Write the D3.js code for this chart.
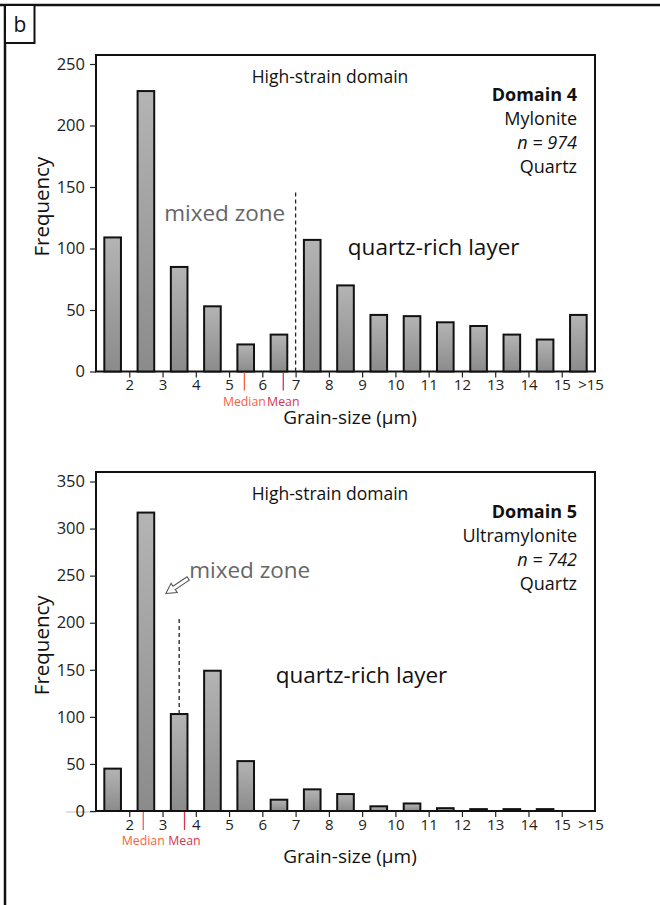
<!DOCTYPE html>
<html>
<head>
<meta charset="utf-8">
<script src="https://cdn.jsdelivr.net/npm/d3@7"></script>
<style>
  html, body { margin: 0; padding: 0; background: #fff; }
  svg { display: block; font-family: "Open Sans", "Noto Sans", sans-serif; }
</style>
</head>
<body>
<svg id="fig" width="660" height="905"></svg>
<script>
// Grain-size bins (µm): 1–2, 2–3, ... 14–15, >15
const binStarts = [1, 2, 3, 4, 5, 6, 7, 8, 9, 10, 11, 12, 13, 14, 15];
const tickValues = [2, 3, 4, 5, 6, 7, 8, 9, 10, 11, 12, 13, 14, 15];
const tickLabels = ["2", "3", "4", "5", "6", "7", "8", "9", "10", "11", "12", "13", "14", "15"];
const overflowLabel = ">15";

// Frequency per bin
const domain4Counts = [109, 228, 85, 53, 22, 30, 107, 70, 46, 45, 40, 37, 30, 26, 46];
const domain5Counts = [45, 317, 103, 149, 53, 12, 23, 18, 5, 8, 3, 2, 2, 2, 0];

// Frequency axis ticks
const domain4YTicks = [0, 50, 100, 150, 200, 250];
const domain5YTicks = [0, 50, 100, 150, 200, 250, 300, 350];

// Summary statistics (µm)
const domain4Stats = { median: 5.46, mean: 6.63 };
const domain5Stats = { median: 2.42, mean: 3.66 };

// Sample annotations
const domain4Info = ["Domain 4", "Mylonite", "n = 974", "Quartz"];
const domain5Info = ["Domain 5", "Ultramylonite", "n = 742", "Quartz"];

const svg = d3.select("#fig");

// shaded bar fill
const defs = svg.append("defs");
const grad = defs.append("linearGradient")
  .attr("id", "barFill").attr("x1", 0).attr("y1", 0).attr("x2", 0).attr("y2", 1);
grad.append("stop").attr("offset", "0%").attr("stop-color", "#b4b4b4");
grad.append("stop").attr("offset", "100%").attr("stop-color", "#8b8b8b");

// panel border and "b" label
svg.append("line").attr("x1", 0).attr("x2", 660).attr("y1", 5).attr("y2", 5)
  .attr("stroke", "#111").attr("stroke-width", 2.5);
svg.append("line").attr("x1", 5).attr("x2", 5).attr("y1", 5).attr("y2", 905)
  .attr("stroke", "#111").attr("stroke-width", 2.5);
svg.append("rect").attr("x", 5).attr("y", 5).attr("width", 29.5).attr("height", 38)
  .attr("fill", "#fff").attr("stroke", "#111").attr("stroke-width", 2);
svg.append("text").attr("x", 20).attr("y", 32).attr("text-anchor", "middle")
  .attr("font-size", 21).attr("fill", "#111").text("b");

function drawHistogram(cfg) {
  const g = svg.append("g");
  const x = d3.scaleLinear().domain([1, 16]).range([96, 595]);
  const y = d3.scaleLinear().domain([0, cfg.yMax]).range([cfg.axisY, cfg.yTopPx]);
  const band = x(2) - x(1);
  const barW = band * 0.5;

  // frame
  g.append("rect")
    .attr("x", x(1)).attr("y", cfg.frameTop)
    .attr("width", x(16) - x(1)).attr("height", cfg.axisY - cfg.frameTop)
    .attr("fill", "none").attr("stroke", "#111").attr("stroke-width", 2);

  // light guide at the zero tick
  if (cfg.zeroGuide) {
    g.append("line").attr("x1", 66).attr("x2", x(1)).attr("y1", y(0) + 1).attr("y2", y(0) + 1)
      .attr("stroke", "#cfdbe8").attr("stroke-width", 1.6);
  }

  // y axis
  const yAxis = g.append("g").attr("transform", `translate(${x(1)},0)`)
    .call(d3.axisLeft(y).tickValues(cfg.yTicks).tickSize(6).tickPadding(5));
  yAxis.select(".domain").remove();
  yAxis.selectAll(".tick line").attr("stroke", "#222").attr("stroke-width", 1.2);
  yAxis.selectAll(".tick text").attr("font-size", 16.5).attr("fill", "#222")
    .attr("font-family", "Open Sans, sans-serif");

  // x axis
  const xAxis = g.append("g").attr("transform", `translate(0,${cfg.axisY})`)
    .call(d3.axisBottom(x).tickValues(tickValues).tickFormat((d, i) => tickLabels[i])
      .tickSize(6).tickPadding(2));
  xAxis.select(".domain").remove();
  xAxis.selectAll(".tick line").attr("stroke", "#222").attr("stroke-width", 1.2);
  xAxis.selectAll(".tick text").attr("font-size", 15).attr("fill", "#222")
    .attr("font-family", "Open Sans, sans-serif");
  g.append("text").attr("x", x(16) - 4).attr("y", cfg.axisY + 18.5)
    .attr("text-anchor", "middle").attr("font-size", 15).attr("fill", "#222")
    .text(overflowLabel);

  // bars
  g.append("g").selectAll("rect").data(cfg.counts).join("rect")
    .attr("x", (d, i) => x(binStarts[i] + 0.5) - barW / 2)
    .attr("y", d => y(d))
    .attr("width", barW)
    .attr("height", d => y(0) - y(d))
    .attr("fill", "url(#barFill)")
    .attr("stroke", "#111").attr("stroke-width", 2);

  // median / mean markers
  const stats = [
    { key: "Median", v: cfg.stats.median, color: "#f2643f" },
    { key: "Mean", v: cfg.stats.mean, color: "#d6354b" }
  ];
  stats.forEach(s => {
    g.append("line").attr("x1", x(s.v)).attr("x2", x(s.v))
      .attr("y1", cfg.axisY + 1).attr("y2", cfg.axisY + 19)
      .attr("stroke", s.color).attr("stroke-width", 1.3);
    g.append("text").attr("x", x(s.v)).attr("y", cfg.axisY + 34)
      .attr("text-anchor", "middle").attr("font-size", 12.3).attr("fill", s.color)
      .text(s.key);
  });

  // axis titles
  g.append("text").attr("x", 350).attr("y", cfg.axisY + 52)
    .attr("text-anchor", "middle").attr("font-size", 19).attr("fill", "#111")
    .text("Grain-size (µm)");
  g.append("text").attr("transform", `translate(49,${y(cfg.freqLabelAt)}) rotate(-90)`)
    .attr("text-anchor", "middle").attr("font-size", 20.5).attr("fill", "#111")
    .text("Frequency");

  // header
  g.append("text").attr("x", 330).attr("y", cfg.frameTop + 28)
    .attr("text-anchor", "middle").attr("font-size", 17.5).attr("fill", "#111")
    .text("High-strain domain");
  cfg.info.forEach((t, i) => {
    const tx = g.append("text").attr("x", 577).attr("y", cfg.frameTop + 46 + i * 24)
      .attr("text-anchor", "end").attr("font-size", 18).attr("fill", "#111");
    if (i === 0) tx.attr("font-weight", "bold").text(t);
    else if (i === 2) tx.attr("font-style", "italic").text(t);
    else tx.text(t);
  });

  // dashed divider between zones
  g.append("line")
    .attr("x1", x(cfg.divider.x)).attr("x2", x(cfg.divider.x))
    .attr("y1", y(cfg.divider.from)).attr("y2", y(cfg.divider.to))
    .attr("stroke", "#222").attr("stroke-width", 1.3).attr("stroke-dasharray", "4,3");

  // zone labels
  g.append("text").attr("x", x(cfg.mixed.x)).attr("y", y(cfg.mixed.y))
    .attr("font-size", 22.5).attr("fill", "#666").text("mixed zone");
  g.append("text").attr("x", x(cfg.quartz.x)).attr("y", y(cfg.quartz.y))
    .attr("font-size", 22.5).attr("fill", "#111").text("quartz-rich layer");

  // hollow pointer arrow
  if (cfg.arrow) {
    const tx = x(cfg.arrow.tip[0]), ty = y(cfg.arrow.tip[1]);
    const sx = x(cfg.arrow.tail[0]), sy = y(cfg.arrow.tail[1]);
    const ang = Math.atan2(ty - sy, tx - sx) * 180 / Math.PI;
    const len = Math.hypot(tx - sx, ty - sy);
    const hl = 10, hw = 5.5, sw = 2;
    const pts = [[0, 0], [-hl, -hw], [-hl, -sw], [-len, -sw], [-len, sw], [-hl, sw], [-hl, hw]];
    g.append("polygon")
      .attr("points", pts.map(p => p.join(",")).join(" "))
      .attr("transform", `translate(${tx},${ty}) rotate(${ang})`)
      .attr("fill", "#fff").attr("stroke", "#555").attr("stroke-width", 1.1)
      .attr("stroke-linejoin", "miter");
  }
}

drawHistogram({
  counts: domain4Counts, yMax: 250, yTicks: domain4YTicks,
  axisY: 371.5, yTopPx: 64, frameTop: 55, freqLabelAt: 134,
  stats: domain4Stats, info: domain4Info,
  divider: { x: 7, from: 0, to: 147 },
  mixed: { x: 3.05, y: 122 },
  quartz: { x: 8.57, y: 95 }
});

drawHistogram({
  counts: domain5Counts, yMax: 350, yTicks: domain5YTicks,
  axisY: 811, yTopPx: 481.5, frameTop: 472, freqLabelAt: 176,
  stats: domain5Stats, info: domain5Info, zeroGuide: true,
  divider: { x: 3.5, from: 103, to: 204 },
  mixed: { x: 3.8, y: 248 },
  quartz: { x: 6.4, y: 136 },
  arrow: { tip: [3.1, 231], tail: [3.77, 247] }
});
</script>
</body>
</html>
